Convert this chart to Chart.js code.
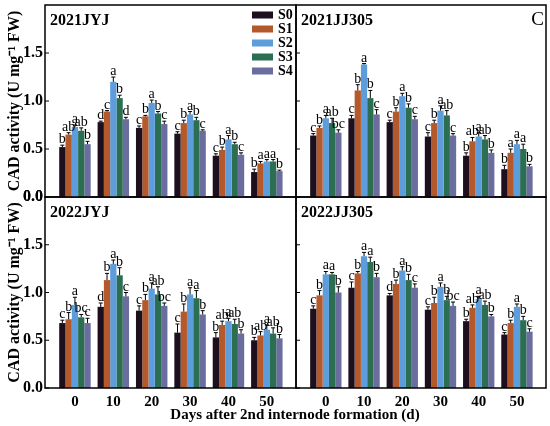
<!DOCTYPE html>
<html>
<head>
<meta charset="utf-8">
<script src="https://cdn.jsdelivr.net/npm/chart.js@4"></script>
<style>
    body { margin: 0; background: #fff; }
    #wrap { position: relative; width: 550px; height: 426px; overflow: hidden; font-family: "Liberation Serif", "Times New Roman", serif; }
    canvas { position: absolute; }
    #x-title { position: absolute; left: 0; width: 590px; top: 406px; text-align: center; font-weight: bold; font-size: 15px; line-height: 17px; }
</style>
</head>
<body>
<div id="wrap">
    <canvas id="p3" width="300" height="236" style="left:0;top:190px"></canvas>
    <canvas id="p4" width="260" height="236" style="left:290px;top:190px"></canvas>
    <canvas id="p1" width="300" height="212" style="left:0;top:0"></canvas>
    <canvas id="p2" width="260" height="212" style="left:290px;top:0"></canvas>
    <div id="x-title">Days after 2nd internode formation (d)</div>
</div>
<script>
    // x groups and series
    const days = [0, 10, 20, 30, 40, 50];
    const seriesNames = ["S0", "S1", "S2", "S3", "S4"];
    const yTicks = [0, 0.5, 1.0, 1.5];

    // 2021JYJ: rows = S0..S4, columns = days
    const mean2021JYJ = [
        [0.52, 0.78, 0.72, 0.66, 0.43, 0.26],
        [0.65, 0.89, 0.84, 0.77, 0.49, 0.35],
        [0.73, 1.20, 0.98, 0.86, 0.60, 0.37],
        [0.69, 1.03, 0.87, 0.80, 0.55, 0.37],
        [0.55, 0.81, 0.76, 0.69, 0.44, 0.27]
    ];
    const err2021JYJ = [
        [0.02, 0.01, 0.02, 0.02, 0.02, 0.03],
        [0.02, 0.01, 0.01, 0.03, 0.03, 0.02],
        [0.02, 0.05, 0.03, 0.03, 0.04, 0.02],
        [0.03, 0.03, 0.02, 0.03, 0.02, 0.02],
        [0.03, 0.02, 0.03, 0.01, 0.02, 0.01]
    ];
    const letters2021JYJ = [
        ["b", "d", "c", "c", "c", "b"],
        ["ab", "c", "b", "b", "b", "a"],
        ["a", "a", "a", "a", "a", "a"],
        ["ab", "b", "b", "b", "b", "a"],
        ["b", "d", "c", "c", "c", "b"]
    ];

    // 2021JJ305
    const mean2021JJ305 = [
        [0.64, 0.82, 0.78, 0.63, 0.43, 0.29],
        [0.72, 1.11, 0.89, 0.77, 0.58, 0.46],
        [0.82, 1.38, 1.05, 0.90, 0.63, 0.55],
        [0.77, 1.03, 0.93, 0.85, 0.60, 0.50],
        [0.67, 0.86, 0.81, 0.64, 0.46, 0.32]
    ];
    const err2021JJ305 = [
        [0.02, 0.03, 0.02, 0.04, 0.03, 0.04],
        [0.02, 0.06, 0.04, 0.03, 0.04, 0.04],
        [0.03, 0.01, 0.03, 0.05, 0.04, 0.04],
        [0.05, 0.08, 0.04, 0.05, 0.04, 0.05],
        [0.03, 0.05, 0.03, 0.02, 0.03, 0.02]
    ];
    const letters2021JJ305 = [
        ["c", "c", "c", "c", "b", "b"],
        ["b", "b", "b", "b", "ab", "a"],
        ["a", "a", "a", "a", "a", "a"],
        ["ab", "b", "b", "ab", "ab", "a"],
        ["bc", "c", "c", "c", "b", "b"]
    ];

    // 2022JYJ
    const mean2022JYJ = [
        [0.68, 0.85, 0.81, 0.58, 0.53, 0.50],
        [0.72, 1.13, 0.92, 0.80, 0.66, 0.55],
        [0.87, 1.30, 1.04, 0.98, 0.70, 0.61],
        [0.74, 1.18, 0.98, 0.94, 0.67, 0.57],
        [0.68, 0.96, 0.86, 0.77, 0.57, 0.52]
    ];
    const err2022JYJ = [
        [0.03, 0.04, 0.05, 0.09, 0.05, 0.03],
        [0.07, 0.07, 0.06, 0.08, 0.04, 0.04],
        [0.08, 0.04, 0.06, 0.07, 0.03, 0.05],
        [0.03, 0.08, 0.08, 0.08, 0.05, 0.06],
        [0.05, 0.04, 0.03, 0.04, 0.04, 0.04]
    ];
    const letters2022JYJ = [
        ["c", "d", "c", "c", "b", "b"],
        ["b", "b", "b", "b", "ab", "ab"],
        ["a", "a", "a", "a", "a", "a"],
        ["bc", "b", "ab", "a", "ab", "ab"],
        ["c", "c", "bc", "b", "b", "b"]
    ];

    // 2022JJ305
    const mean2022JJ305 = [
        [0.83, 1.05, 0.97, 0.82, 0.70, 0.56],
        [0.97, 1.20, 1.09, 0.89, 0.84, 0.68],
        [1.19, 1.38, 1.23, 1.06, 0.93, 0.85],
        [1.19, 1.32, 1.13, 0.92, 0.87, 0.71],
        [1.00, 1.16, 1.05, 0.86, 0.75, 0.59]
    ];
    const err2022JJ305 = [
        [0.03, 0.06, 0.02, 0.03, 0.02, 0.02],
        [0.05, 0.02, 0.04, 0.06, 0.03, 0.03],
        [0.03, 0.04, 0.04, 0.04, 0.03, 0.03],
        [0.02, 0.05, 0.06, 0.04, 0.04, 0.04],
        [0.06, 0.04, 0.04, 0.04, 0.02, 0.03]
    ];
    const letters2022JJ305 = [
        ["c", "c", "d", "c", "b", "c"],
        ["b", "b", "b", "b", "ab", "b"],
        ["a", "a", "a", "a", "a", "a"],
        ["a", "a", "b", "b", "ab", "b"],
        ["b", "b", "c", "bc", "b", "c"]
    ];

    const colors = ["#1e0f1e", "#b4592c", "#5d9ddb", "#2b6e52", "#6b6d9f"];
    const serif = "'Liberation Serif', 'Times New Roman', serif";

    const panelDecor = {
        id: "panelDecor",
        afterDatasetsDraw(chart, args, opts) {
            const { ctx, chartArea: area } = chart;
            const yScale = chart.scales.y;
            ctx.save();

            // error bars + significance letters
            ctx.strokeStyle = "#000";
            ctx.fillStyle = "#000";
            ctx.lineWidth = 1;
            ctx.font = `14px ${serif}`;
            ctx.textAlign = "center";
            ctx.textBaseline = "alphabetic";
            chart.data.datasets.forEach((ds, i) => {
                const meta = chart.getDatasetMeta(i);
                meta.data.forEach((bar, j) => {
                    const top = yScale.getPixelForValue(ds.means[j] + ds.errs[j]);
                    ctx.beginPath();
                    ctx.moveTo(bar.x, bar.y);
                    ctx.lineTo(bar.x, top);
                    ctx.moveTo(bar.x - 2, top);
                    ctx.lineTo(bar.x + 2, top);
                    ctx.stroke();
                    ctx.fillText(ds.letters[j], bar.x, top - 2);
                });
            });

            // inward y tick marks
            ctx.lineWidth = 1;
            yTicks.forEach((v) => {
                const y = yScale.getPixelForValue(v);
                ctx.beginPath();
                ctx.moveTo(area.left, y);
                ctx.lineTo(area.left + 4, y);
                ctx.stroke();
            });

            // frame
            ctx.lineWidth = 1.5;
            ctx.strokeRect(area.left, area.top, area.right - area.left, area.bottom - area.top);

            // the axis leaves out its bottom label on the upper row, so put it back
            if (opts.zeroLabel) {
                ctx.font = `bold 16px ${serif}`;
                ctx.textAlign = "right";
                ctx.textBaseline = "middle";
                ctx.fillText(yTicks[0].toFixed(1), area.left - 2, yScale.getPixelForValue(yTicks[0]));
            }

            // panel title
            ctx.textAlign = "left";
            ctx.textBaseline = "middle";
            ctx.font = `bold 16px ${serif}`;
            ctx.fillText(opts.title, area.left + 5, area.top + 16);

            if (opts.tag) {
                ctx.font = `19px ${serif}`;
                ctx.textAlign = "right";
                ctx.fillText(opts.tag, area.right - 2, area.top + 15);
            }

            if (opts.legend) {
                ctx.textAlign = "left";
                ctx.font = `bold 14px ${serif}`;
                seriesNames.forEach((name, i) => {
                    const y = 15 + i * 14;
                    ctx.fillStyle = colors[i];
                    ctx.fillRect(252, y - 3.5, 21, 7);
                    ctx.fillStyle = "#000";
                    ctx.fillText(name, 278, y + 0.5);
                });
            }
            ctx.restore();
        }
    };

    const makePanel = (id, means, errs, letters, cfg) => {
        const datasets = seriesNames.map((name, i) => ({
            label: name,
            data: days.map((d, j) => ({ x: d, y: means[i][j] })),
            means: means[i],
            errs: errs[i],
            letters: letters[i],
            backgroundColor: colors[i],
            borderWidth: 0,
            barPercentage: 1.0,
            categoryPercentage: 0.82
        }));

        return new Chart(document.getElementById(id), {
            type: "bar",
            data: { datasets },
            options: {
                responsive: false,
                animation: false,
                layout: { padding: cfg.padding },
                plugins: {
                    legend: { display: false },
                    tooltip: { enabled: false },
                    panelDecor: { title: cfg.title, tag: cfg.tag, legend: cfg.legend, zeroLabel: cfg.zeroLabel }
                },
                scales: {
                    x: {
                        type: "linear",
                        min: -7.8,
                        max: 57.6,
                        offset: false,
                        grid: { display: false, drawTicks: false, offset: false },
                        border: { display: false },
                        afterBuildTicks: (scale) => { scale.ticks = days.map((v) => ({ value: v })); },
                        afterFit: (scale) => {
                            scale.height = cfg.xHeight;
                            scale.paddingLeft = 0;
                            scale.paddingRight = 0;
                        },
                        ticks: {
                            display: cfg.showX,
                            color: "#000",
                            padding: 5,
                            maxRotation: 0,
                            autoSkip: false,
                            font: { family: serif, size: 15, weight: "bold" }
                        }
                    },
                    y: {
                        min: 0,
                        max: 2.0,
                        display: cfg.showY,
                        grid: { display: false, drawTicks: false },
                        border: { display: false },
                        afterBuildTicks: (scale) => { scale.ticks = yTicks.map((v) => ({ value: v })); },
                        afterFit: (scale) => {
                            scale.width = cfg.showY ? 45 : 0;
                            scale.paddingTop = 0;
                            scale.paddingBottom = 0;
                        },
                        title: {
                            display: true,
                            text: "CAD activity (U mg\u207B\u00B9 FW)",
                            color: "#000",
                            padding: { top: 5, bottom: 0 },
                            font: { family: serif, size: 16, weight: "bold" }
                        },
                        ticks: {
                            color: "#000",
                            padding: 2,
                            autoSkip: false,
                            callback: (v) => Number(v).toFixed(1),
                            font: { family: serif, size: 16, weight: "bold" }
                        }
                    }
                }
            },
            plugins: [panelDecor]
        });
    };

    makePanel("p1", mean2021JYJ, err2021JYJ, letters2021JYJ, {
        title: "2021JYJ", legend: true, showX: false, showY: true, xHeight: 15, zeroLabel: true,
        padding: { left: 0, top: 5, right: 4, bottom: 0 }
    });
    makePanel("p2", mean2021JJ305, err2021JJ305, letters2021JJ305, {
        title: "2021JJ305", tag: "C", showX: false, showY: false, xHeight: 15,
        padding: { left: 6, top: 5, right: 4, bottom: 0 }
    });
    makePanel("p3", mean2022JYJ, err2022JYJ, letters2022JYJ, {
        title: "2022JYJ", showX: true, showY: true, xHeight: 38,
        padding: { left: 0, top: 7, right: 4, bottom: 0 }
    });
    makePanel("p4", mean2022JJ305, err2022JJ305, letters2022JJ305, {
        title: "2022JJ305", showX: true, showY: false, xHeight: 38,
        padding: { left: 6, top: 7, right: 4, bottom: 0 }
    });
</script>
</body>
</html>
